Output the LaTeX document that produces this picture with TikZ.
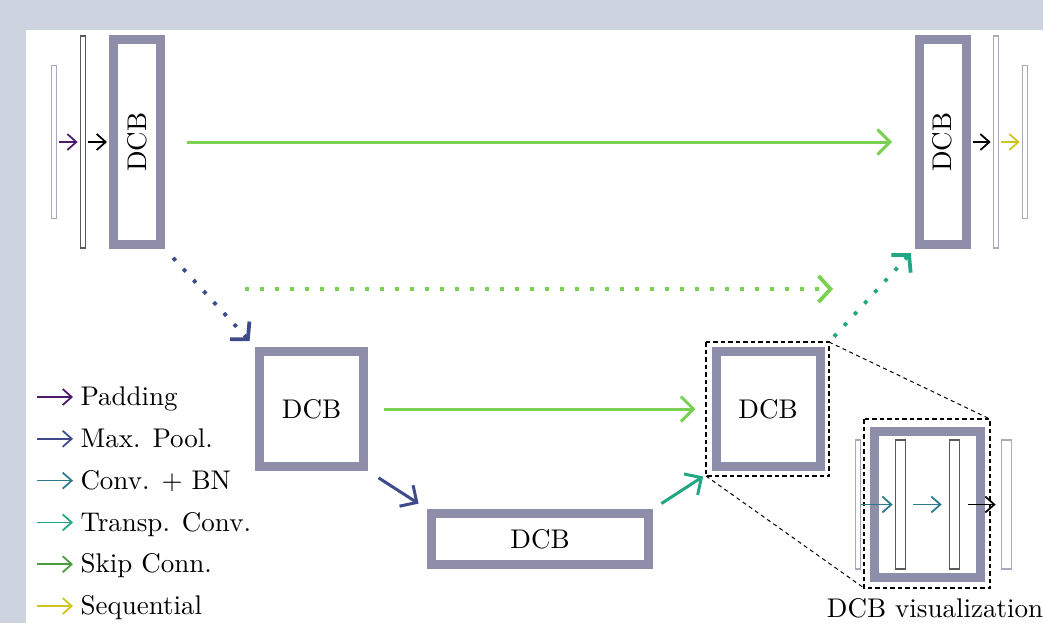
\documentclass[tikz,border=0pt]{standalone}
\usepackage{tikz}
\usetikzlibrary{arrows.meta}
\definecolor{bgslate}{HTML}{CDD3DF}
\definecolor{dcbgray}{HTML}{8E8EAA}
\definecolor{barlight}{HTML}{A9A9BE}
\definecolor{bardark}{HTML}{5A5A5A}
\definecolor{padcol}{HTML}{4B1A6C}
\definecolor{poolcol}{HTML}{3E4A89}
\definecolor{convcol}{HTML}{2B7A8D}
\definecolor{transcol}{HTML}{22A784}
\definecolor{skipcol}{HTML}{7AD151}
\definecolor{legskip}{HTML}{4C9B3F}
\definecolor{seqcol}{HTML}{CFC51C}

\begin{document}
\begin{tikzpicture}%
  [x=0.4pt,y=-0.4pt,
   every node/.style={font=\fontsize{10.8}{13}\selectfont},
   big arrow/.style={line width=1.2pt,-{Straight Barb[length=5pt,width=10pt]}},
   small arrow/.style={line width=0.7pt,-{Straight Barb[length=3.6pt,width=6.4pt]}},
   dotted arrow/.style={line width=1.5pt,dash pattern=on 1.5pt off 4.5pt,
     -{Straight Barb[length=4.8pt,width=10.5pt]}},
   zoom box/.style={line width=0.8pt,dash pattern=on 1.8pt off 1.2pt},
   zoom line/.style={line width=0.4pt,dash pattern=on 1.6pt off 1.4pt}]
  \tikzstyle{dcb node}=[draw=dcbgray,line width=3.6pt,fill=white,outer sep=1.8pt,inner sep=0pt]
  \tikzstyle{bar node}=[draw=barlight,line width=0.5pt,fill=white,minimum width=2.2pt,outer sep=0.25pt,inner sep=0pt]
  \useasboundingbox (0,0) rectangle (1043,623);
  \fill[bgslate] (0,0) rectangle (1043,623);
  \fill[white] (26,30) rectangle (1043,623);

  % encoder / decoder blocks
  \node(dcbA)[dcb node,minimum width=18.8pt,minimum height=82pt] at (137,142) {\rotatebox{90}{DCB}};
  \node(dcbF)[dcb node,minimum width=18.8pt,minimum height=82pt] at (942.5,142) {\rotatebox{90}{DCB}};
  \node(dcbB)[dcb node,minimum width=41.6pt,minimum height=46pt] at (311.5,409) {DCB};
  \node(dcbD)[dcb node,minimum width=41.6pt,minimum height=46pt] at (768,409) {DCB};
  \node(dcbC)[dcb node,minimum width=86.8pt,minimum height=20.4pt] at (540,539) {DCB};

  % input / output layers
  \node(barA1)[bar node,minimum height=61.2pt] at (54,142) {};
  \node(barA2)[bar node,draw=bardark,minimum height=84.8pt] at (83,142) {};
  \node(barF1)[bar node,minimum height=84.8pt] at (996,142) {};
  \node(barF2)[bar node,minimum height=61.2pt] at (1025,142) {};

  \draw[small arrow,padcol,shorten <=0.8pt,shorten >=0.8pt] (barA1) -- (barA2);
  \draw[small arrow,black,shorten <=0.8pt,shorten >=0.8pt] (barA2) -- (dcbA);
  \draw[small arrow,black,shorten <=0.8pt,shorten >=0.8pt] (dcbF) -- (barF1);
  \draw[small arrow,seqcol,shorten <=0.8pt,shorten >=0.8pt] (barF1) -- (barF2);

  % skip connections
  \draw[big arrow,skipcol,shorten <=8.8pt,shorten >=9pt] (dcbA) -- (dcbF);
  \draw[big arrow,skipcol,shorten <=6.4pt,shorten >=6.4pt] (dcbB) -- (dcbD);
  \coordinate (skipL) at (245,289);
  \coordinate (skipR) at (833,289);
  \draw[dotted arrow,skipcol] (skipL) -- (skipR);

  % pooling and upsampling
  \draw[dotted arrow,poolcol,shorten <=4.8pt,shorten >=3.2pt] (dcbA.south east) -- (dcbB.north west);
  \draw[big arrow,poolcol,shorten <=5pt,shorten >=4pt] (dcbB.south east) -- (dcbC.north west);
  \draw[big arrow,transcol,shorten <=4pt,shorten >=4pt] (dcbC.north east) -- (dcbD.south west);
  \draw[dotted arrow,transcol,shorten <=5.6pt,shorten >=2.2pt] (dcbD.north east) -- (dcbF.south west);

  % zoom on one block
  \coordinate (zoomNW) at (706,342);
  \coordinate (zoomSE) at (829,476);
  \coordinate (visNW) at (864,419);
  \coordinate (visSE) at (990,588);
  \draw[zoom box] (zoomNW) rectangle (zoomSE);
  \draw[zoom box] (visNW) rectangle (visSE);
  \draw[zoom line] (zoomSE |- zoomNW) -- (visSE |- visNW);
  \draw[zoom line] (zoomNW |- zoomSE) -- (visNW |- visSE);

  \node(dcbV)[dcb node,minimum width=42.4pt,minimum height=58.4pt] at (927.5,504.5) {};
  \node(barV1)[bar node,minimum height=51.6pt] at (858,504.5) {};
  \node(barV2)[bar node,draw=bardark,minimum width=4.2pt,minimum height=51.6pt] at (900.5,504.5) {};
  \node(barV3)[bar node,draw=bardark,minimum width=4.2pt,minimum height=51.6pt] at (954.5,504.5) {};
  \node(barV4)[bar node,minimum width=4.2pt,minimum height=51.6pt] at (1006.5,504.5) {};
  \draw[small arrow,convcol,shorten >=0.8pt] (barV1) -- (barV2);
  \draw[small arrow,convcol,shorten <=2.8pt,shorten >=2.8pt] (barV2) -- (barV3);
  \draw[small arrow,black,shorten <=3.2pt,shorten >=2pt] (barV3) -- (barV4);
  \node(viscap)[anchor=base] at (935,617) {DCB visualization};

  % legend
  \foreach \txt/\col [count=\i from 0] in {Padding/padcol,Max. Pool./poolcol,
      Conv. + BN/convcol,Transp. Conv./transcol,Skip Conn./legskip,Sequential/seqcol}
  {
    \coordinate (lgs\i) at (37,{397+41.8*\i});
    \node(lg\i)[anchor=west,inner sep=2.8pt,text height=7pt,text depth=0pt] at (73,{397+41.8*\i}) {\txt};
    \draw[small arrow,color=\col] (lgs\i) -- (lg\i.west);
  }
\end{tikzpicture}
\end{document}
